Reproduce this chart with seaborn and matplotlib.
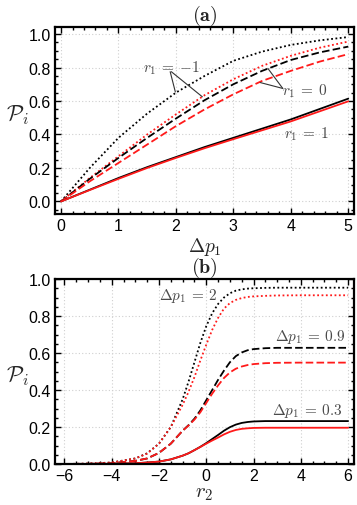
import numpy as np
import pandas as pd
import matplotlib
matplotlib.use("Agg")
import matplotlib.pyplot as plt
import seaborn as sns
from matplotlib.ticker import MultipleLocator, FormatStrFormatter

# ---------------- data: panel (a) ----------------
dp1 = [0, 0.5, 1, 1.5, 2, 2.5, 3, 3.5, 4, 4.5, 5]
a_black_dot = [0, 0.2, 0.38, 0.525, 0.65, 0.75, 0.84, 0.895, 0.935, 0.962, 0.982]
a_red_dot = [0, 0.14, 0.27, 0.4, 0.52, 0.635, 0.73, 0.81, 0.87, 0.918, 0.955]
a_black_dash = [0, 0.135, 0.26, 0.38, 0.495, 0.605, 0.7, 0.78, 0.845, 0.89, 0.925]
a_red_dash = [0, 0.12, 0.23, 0.34, 0.45, 0.55, 0.64, 0.72, 0.78, 0.835, 0.88]
a_black_solid = [0, 0.07, 0.14, 0.205, 0.265, 0.325, 0.38, 0.435, 0.49, 0.552, 0.614]
a_red_solid = [0, 0.068, 0.135, 0.2, 0.26, 0.318, 0.372, 0.425, 0.478, 0.538, 0.598]

# ---------------- data: panel (b) ----------------
r2 = [-6, -5, -4, -3, -2.5, -2, -1.5, -1, -0.75, -0.5, -0.25, 0, 0.25, 0.5, 0.75,
      1, 1.25, 1.5, 1.75, 2, 2.5, 3, 4, 5, 6]
b_black_dot = [0, 0.002, 0.008, 0.03, 0.058, 0.11, 0.2, 0.35, 0.445, 0.55, 0.655, 0.745,
               0.815, 0.865, 0.9, 0.923, 0.937, 0.944, 0.948, 0.95, 0.952, 0.953, 0.953, 0.953, 0.953]
b_red_dot = [0, 0.002, 0.008, 0.03, 0.056, 0.11, 0.2, 0.32, 0.39, 0.47, 0.56, 0.645,
             0.725, 0.79, 0.84, 0.87, 0.887, 0.897, 0.903, 0.906, 0.909, 0.911, 0.912, 0.912, 0.912]
b_black_dash = [0, 0.001, 0.004, 0.017, 0.03, 0.06, 0.11, 0.18, 0.21, 0.245, 0.29, 0.345,
                0.4, 0.455, 0.505, 0.55, 0.583, 0.603, 0.615, 0.621, 0.626, 0.628, 0.628, 0.628, 0.628]
b_red_dash = [0, 0.001, 0.004, 0.017, 0.03, 0.06, 0.11, 0.18, 0.208, 0.24, 0.28, 0.33,
              0.38, 0.425, 0.465, 0.495, 0.515, 0.527, 0.535, 0.54, 0.545, 0.547, 0.548, 0.548, 0.548]
b_black_solid = [0, 0.0, 0.001, 0.004, 0.008, 0.013, 0.025, 0.045, 0.058, 0.075, 0.093, 0.113,
                 0.135, 0.157, 0.18, 0.199, 0.213, 0.222, 0.227, 0.23, 0.232, 0.232, 0.232, 0.232, 0.232]
b_red_solid = [0, 0.0, 0.001, 0.004, 0.008, 0.013, 0.025, 0.045, 0.058, 0.075, 0.092, 0.11,
               0.127, 0.143, 0.16, 0.174, 0.184, 0.19, 0.193, 0.195, 0.196, 0.196, 0.196, 0.196, 0.196]

a_ticks_x = [0, 1, 2, 3, 4, 5]
b_ticks_x = [-6, -4, -2, 0, 2, 4, 6]
y_ticks = [0.0, 0.2, 0.4, 0.6, 0.8, 1.0]

sns.set_style("ticks")
plt.rcParams["font.family"] = ["Liberation Sans", "DejaVu Sans"]
plt.rcParams["mathtext.fontset"] = "cm"
plt.rcParams["axes.unicode_minus"] = True

fig = plt.figure(figsize=(3.57, 5.06), dpi=100)
axA = fig.add_axes([55 / 357, 1 - 215 / 506, 299 / 357, 187 / 506])
axB = fig.add_axes([55 / 357, 1 - 465 / 506, 299 / 357, 185 / 506])

DOT = (0, (1.0, 1.4))
DASH = (0, (4.2, 1.8))
LW = 1.3
RED = "#ff1a1a"


def draw(ax, x, y, color, ls):
    sns.lineplot(x=x, y=y, ax=ax, color=color, linestyle=ls, lw=LW,
                 estimator=None, sort=False, legend=False)


draw(axA, dp1, a_black_dot, "black", DOT)
draw(axA, dp1, a_red_dot, RED, DOT)
draw(axA, dp1, a_black_dash, "black", DASH)
draw(axA, dp1, a_red_dash, RED, DASH)
draw(axA, dp1, a_black_solid, "black", "-")
draw(axA, dp1, a_red_solid, RED, "-")

draw(axB, r2, b_black_dot, "black", DOT)
draw(axB, r2, b_red_dot, RED, DOT)
draw(axB, r2, b_black_dash, "black", DASH)
draw(axB, r2, b_red_dash, RED, DASH)
draw(axB, r2, b_black_solid, "black", "-")
draw(axB, r2, b_red_solid, RED, "-")

axA.set_xlim(-0.105, 5.10)
axA.set_ylim(-0.075, 1.042)
axB.set_xlim(-6.4, 6.25)
axB.set_ylim(0.0, 1.0)

for ax, xt, xminor in [(axA, a_ticks_x, 0.2), (axB, b_ticks_x, 0.5)]:
    ax.set_xticks(xt)
    ax.set_yticks(y_ticks)
    ax.xaxis.set_minor_locator(MultipleLocator(xminor))
    ax.yaxis.set_minor_locator(MultipleLocator(0.05))
    ax.yaxis.set_major_formatter(FormatStrFormatter("%.1f"))
    ax.tick_params(which="both", direction="in", top=True, right=True,
                   labelsize=11.5, colors="black", width=1.0, pad=3)
    ax.tick_params(which="major", length=4.5)
    ax.tick_params(which="minor", length=2.5)
    ax.grid(True, which="major", color="#cfcfcf", linestyle=(0, (1, 2)), lw=0.8)
    ax.set_axisbelow(True)
    for s in ax.spines.values():
        s.set_visible(True)
        s.set_linewidth(1.6)
        s.set_color("black")
    ax.set_xlabel("")
    ax.set_ylabel("")

axB.set_xticklabels([f"{v}".replace("-", "\u2212") for v in b_ticks_x])

# labels
axA.set_title(r"$(\mathbf{a})$", fontsize=14.5, pad=3)
axB.set_title(r"$(\mathbf{b})$", fontsize=14.5, pad=3)
axA.text(-0.124, 0.535, r"$\mathcal{P}_i$", transform=axA.transAxes, fontsize=16,
         ha="center", va="center")
axB.text(-0.124, 0.48, r"$\mathcal{P}_i$", transform=axB.transAxes, fontsize=16,
         ha="center", va="center")
axA.set_xlabel(r"$\Delta p_1$", fontsize=14, labelpad=1)
axB.set_xlabel(r"$r_2$", fontsize=15, labelpad=0)

TXT = "#4a4a4a"
FS = 11
axA.text(1.92, 0.80, r"$r_1\:=\:{-1}$", color=TXT, fontsize=FS, ha="center", va="center")
axA.plot([1.9, 1.99], [0.775, 0.654], color="#333333", lw=0.8)
axA.plot([1.92, 2.46], [0.775, 0.625], color="#333333", lw=0.8)
axA.text(4.25, 0.666, r"$r_1\:=\:0$", color=TXT, fontsize=FS, ha="center", va="center")
axA.plot([3.86, 3.6], [0.675, 0.795], color="#333333", lw=0.8)
axA.plot([3.86, 3.47], [0.675, 0.71], color="#333333", lw=0.8)
axA.text(4.27, 0.41, r"$r_1\:=\:1$", color=TXT, fontsize=FS, ha="center", va="center")

axB.text(-0.75, 0.915, r"$\Delta p_1\:=\:2$", color=TXT, fontsize=FS, ha="center", va="center")
axB.text(4.39, 0.69, r"$\Delta p_1\:=\:0.9$", color=TXT, fontsize=FS, ha="center", va="center")
axB.text(4.27, 0.29, r"$\Delta p_1\:=\:0.3$", color=TXT, fontsize=FS, ha="center", va="center")

fig.savefig("out.png", dpi=100)
